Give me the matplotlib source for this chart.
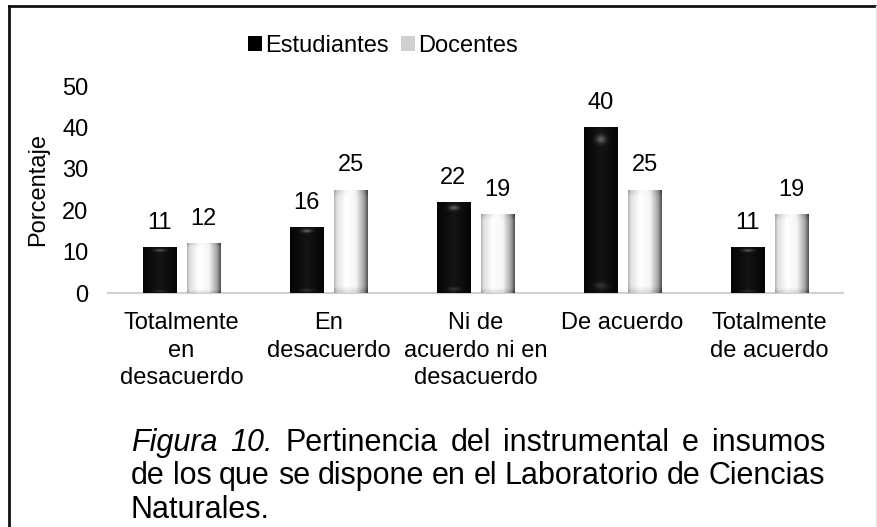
import matplotlib
matplotlib.use('Agg')
import matplotlib.pyplot as plt
import matplotlib.font_manager as fm
from matplotlib.lines import Line2D
from matplotlib.patches import Patch
import numpy as np

categories = ['Totalmente\nen\ndesacuerdo', 'En\ndesacuerdo', 'Ni de\nacuerdo ni en\ndesacuerdo',
              'De acuerdo', 'Totalmente\nde acuerdo']
estudiantes = [11, 16, 22, 40, 11]
docentes = [12, 25, 19, 25, 19]
series_names = ['Estudiantes', 'Docentes']
y_ticks = [0, 10, 20, 30, 40, 50]
caption_lines = [
    [('Figura', 'italic'), ('10.', 'italic'), ('Pertinencia', 'normal'), ('del', 'normal'),
     ('instrumental', 'normal'), ('e', 'normal'), ('insumos', 'normal')],
    [(w, 'normal') for w in 'de los que se dispone en el Laboratorio de Ciencias'.split()],
    [('Naturales.', 'normal')],
]

plt.rcParams['font.family'] = ['Liberation Sans', 'DejaVu Sans']
W, H = 878, 527
FS = 17
fig = plt.figure(figsize=(W / 100, H / 100), dpi=100, facecolor='white')
ax = fig.add_axes([108 / W, 1 - 293 / H, (843 - 108) / W, (293 - 86) / H])

x = np.arange(len(categories))
width = 0.225
off = 0.15
b1 = ax.bar(x - off, estudiantes, width, color='black', zorder=2)
b2 = ax.bar(x + off, docentes, width, color='#e0e0e0', zorder=2)


def black_grad():
    u = np.linspace(0, 1, 60)
    v = np.linspace(0, 1, 120)
    U, V = np.meshgrid(u, v)
    g = 0.02 + 0.06 * (1 - np.abs(U - 0.5) * 2)
    # little highlight near the top
    g += 0.3 * np.exp(-((U - 0.5) / 0.15) ** 2) * np.exp(-((V - 0.93) / 0.025) ** 2)
    g += 0.12 * np.exp(-((U - 0.5) / 0.2) ** 2) * np.exp(-((V - 0.04) / 0.02) ** 2)
    return g


def white_grad():
    u = np.linspace(0, 1, 60)
    v = np.linspace(0, 1, 120)
    U, V = np.meshgrid(u, v)
    g = np.interp(U, [0, 0.08, 0.35, 0.65, 0.88, 1], [0.72, 0.88, 1.0, 0.96, 0.66, 0.33])
    g -= 0.12 * np.exp(-(V / 0.04) ** 2)
    g -= 0.12 * np.exp(-((V - 1) / 0.05) ** 2) * np.abs(U - 0.5) * 2
    return np.clip(g, 0, 1)


for bars, gfun in [(b1, black_grad), (b2, white_grad)]:
    for bar in bars:
        bx, bw, bh = bar.get_x(), bar.get_width(), bar.get_height()
        im = ax.imshow(gfun(), cmap='gray', vmin=0, vmax=1, origin='lower', aspect='auto',
                       extent=[bx, bx + bw, 0, bh], zorder=3, interpolation='bilinear')
        im.set_clip_path(bar)
        ax.annotate(f'{bh:g}', (bx + bw / 2, bh), xytext=(0, 13), textcoords='offset points',
                    ha='center', va='baseline', fontsize=FS, color='black')

ax.set_xlim(-0.5, len(categories) - 0.5)
ax.set_ylim(0, 50)
ax.set_yticks(y_ticks)
ax.set_xticks(x)
ax.set_xticklabels(categories, linespacing=1.3)
ax.tick_params(axis='y', length=0, pad=14, labelsize=FS)
ax.tick_params(axis='x', length=0, pad=14, labelsize=FS)
for s in ['top', 'right', 'left']:
    ax.spines[s].set_visible(False)
ax.spines['bottom'].set_color('#d0d0d0')
ax.spines['bottom'].set_linewidth(1.5)
ax.set_ylabel('Porcentaje', fontsize=FS)
ax.yaxis.set_label_coords((38 - 108) / 735, 0.5)
ax.yaxis.label.set_va('center')

handles = [Patch(facecolor='black'), Patch(facecolor='#cfcfcf')]
fig.legend(handles, series_names, loc='center', bbox_to_anchor=(383 / W, 1 - 46 / H), ncol=2,
           frameon=False, fontsize=FS, handlelength=0.6, handleheight=0.6, handletextpad=0.15,
           columnspacing=0.5, borderpad=0)

# frame around the figure
fig.add_artist(Line2D([9 / W, 9 / W], [0, 1 - 6 / H], color='#111111', lw=2, transform=fig.transFigure))
fig.add_artist(Line2D([9 / W, 1], [1 - 6 / H, 1 - 6 / H], color='#111111', lw=2, transform=fig.transFigure))
fig.add_artist(Line2D([876.5 / W, 876.5 / W], [0, 1 - 6 / H], color='#e6e6e6', lw=1, transform=fig.transFigure))

# caption, justified
names = {f.name for f in fm.fontManager.ttflist}
cap_family = 'Liberation Sans Narrow' if 'Liberation Sans Narrow' in names else 'Liberation Sans'
left, right = 131, 825
baselines = [451, 484, 518]
renderer = fig.canvas.get_renderer()
size = 22 if cap_family == 'Liberation Sans' else 25
while True:
    widths = []
    for line in caption_lines:
        ws = []
        for w, st in line:
            t = fig.text(0, 0, w, fontsize=size, style=st, family=cap_family)
            ws.append(t.get_window_extent(renderer).width)
            t.remove()
        widths.append(ws)
    if sum(widths[1]) + 6 * (len(widths[1]) - 1) <= right - left or size < 10:
        break
    size -= 0.5

for i, (line, ws) in enumerate(zip(caption_lines, widths)):
    if i < len(caption_lines) - 1:
        gap = (right - left - sum(ws)) / (len(ws) - 1)
    else:
        gap = 6
    xp = left
    for (w, st), wd in zip(line, ws):
        fig.text(xp / W, 1 - baselines[i] / H, w, fontsize=size, style=st, family=cap_family,
                 ha='left', va='baseline')
        xp += wd + gap

fig.savefig('out.png', dpi=100, facecolor='white')
